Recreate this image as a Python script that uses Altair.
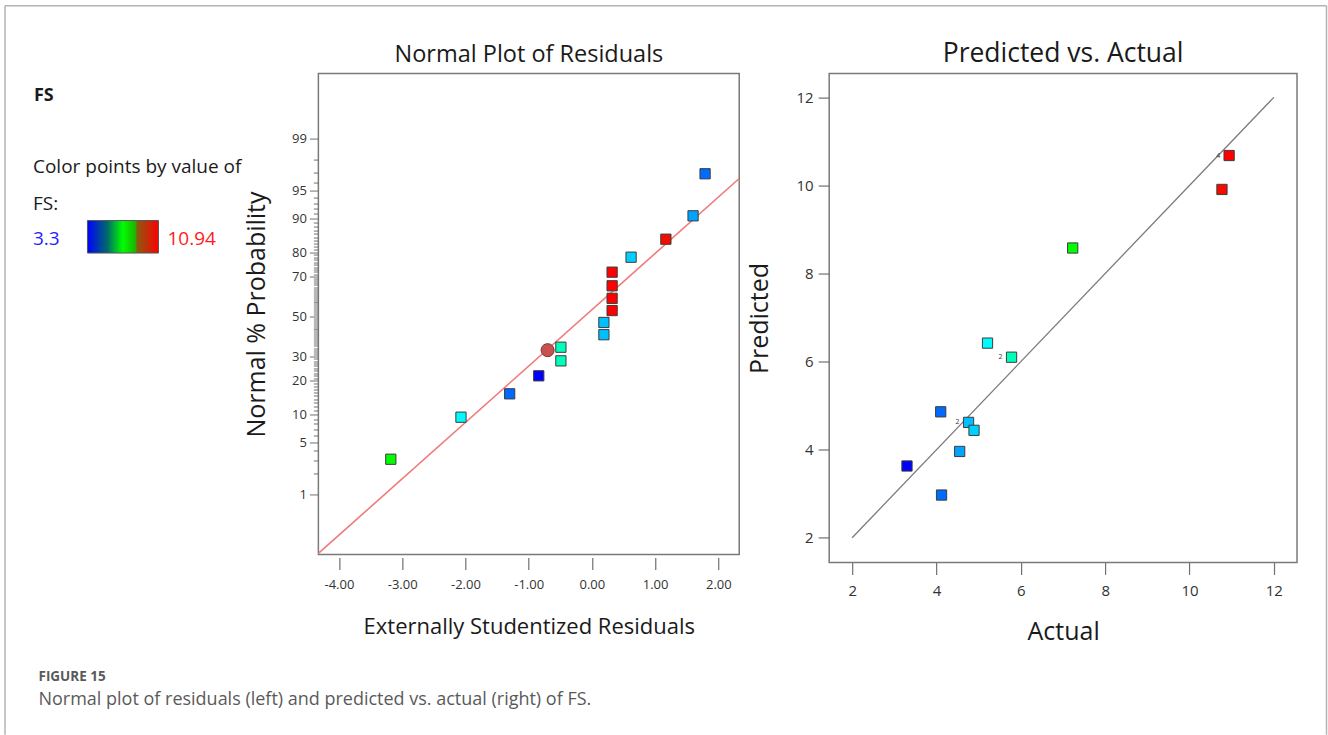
import statistics

import altair as alt
import pandas as pd

FONT = "Open Sans"

# ---------------- normal probability plot of residuals ----------------
residuals = [-3.18, -2.07, -1.30, -0.84, -0.49, -0.49, 0.19, 0.19,
             0.32, 0.32, 0.32, 0.32, 0.62, 1.17, 1.60, 1.79]
normal_pct = [3.1, 9.4, 15.6, 21.9, 28.1, 34.4, 40.6, 46.9,
              53.1, 59.4, 65.6, 71.9, 78.1, 84.4, 90.6, 96.9]
residual_fs = [7.23, 5.21, 4.10, 3.30, 5.78, 5.78, 4.76, 4.76,
               10.94, 10.94, 10.94, 10.94, 4.89, 10.77, 4.55, 4.12]

highlight_residual = [-0.70]
highlight_pct = [33.0]

line_residual = [-4.325, 2.33]
line_pct = [0.0974, 96.44]

# ---------------- predicted vs. actual ----------------
actual = [3.30, 4.10, 4.12, 4.55, 4.76, 4.89, 5.21, 5.78, 7.23, 10.77, 10.94]
predicted = [3.63, 4.86, 2.97, 3.96, 4.62, 4.44, 6.42, 6.10, 8.58, 9.91, 10.68]
repeats = ["", "", "", "", "2", "", "", "2", "", "", "4"]

fit_actual = [2, 12]
fit_predicted = [2, 12]

# ---------------- axis ticks and colour key ----------------
prob_major = [1, 5, 10, 20, 30, 50, 70, 80, 90, 95, 99]
prob_minor = list(range(1, 100))
resid_ticks = [-4, -3, -2, -1, 0, 1, 2]
value_ticks = [2, 4, 6, 8, 10, 12]
fs_low, fs_high = "3.3", "10.94"

color_domain = [3.3, 5.25, 7.2, 10.94]
color_range = ["#0000ff", "#00ffff", "#00ff00", "#ff0000"]

# probability axis: ticks at the normal quantile of every whole percent
nd = statistics.NormalDist()
prob_tick_z = [nd.inv_cdf(p / 100.0) for p in prob_minor]
pct_of_tick = "round(cumulativeNormal(datum.value) * 100)"
is_major = "indexof([" + ",".join(str(p) for p in prob_major) + "], " + pct_of_tick + ") >= 0"

color_enc = alt.Color(
    "fs:Q",
    scale=alt.Scale(domain=color_domain, range=color_range, interpolate="rgb"),
    legend=None,
)

tick_color = "#707070"
label_color = "#333333"
title_color = "#1a1a1a"

x_resid = alt.X(
    "residual:Q",
    scale=alt.Scale(domain=[-4.325, 2.33], nice=False, zero=False),
    axis=alt.Axis(
        values=resid_ticks,
        labelExpr="(datum.value < 0 ? '-' : '') + format(abs(datum.value), '.2f')",
        offset=3, domain=False, grid=False,
        tickSize=12, tickColor=tick_color, tickWidth=1.2,
        labelFont=FONT, labelFontSize=13, labelColor=label_color, labelPadding=9,
        title="Externally Studentized Residuals", titleFont=FONT, titleFontSize=22,
        titleFontWeight="normal", titleColor=title_color, titlePadding=25,
    ),
)
y_prob = alt.Y(
    "z:Q",
    scale=alt.Scale(domain=[-3.111, 3.176], nice=False, zero=False),
    axis=alt.Axis(
        values=prob_tick_z,
        labelExpr=is_major + " ? '' + " + pct_of_tick + " : ''",
        labelOverlap=False, domain=False, grid=False,
        tickSize={"condition": {"test": is_major, "value": 9}, "value": 5},
        tickColor=tick_color, tickWidth=1,
        labelFont=FONT, labelFontSize=13, labelColor=label_color, labelPadding=3,
        title="Normal % Probability", titleFont=FONT, titleFontSize=25,
        titleFontWeight="normal", titleColor=title_color, titlePadding=22,
    ),
)

resid_df = pd.DataFrame({"residual": residuals, "pct": normal_pct, "fs": residual_fs})
highlight_df = pd.DataFrame({"residual": highlight_residual, "pct": highlight_pct})
resid_line_df = pd.DataFrame({"residual": line_residual, "pct": line_pct})
one = pd.DataFrame({"k": [0]})

to_z = "quantileNormal(datum.pct / 100)"

resid_line = alt.Chart(resid_line_df).mark_line(color="#f07a7a", strokeWidth=1.6).transform_calculate(
    z=to_z).encode(x=x_resid, y=y_prob)
resid_points = alt.Chart(resid_df).mark_square(
    size=105, filled=True, stroke="#3c3c3c", strokeWidth=1, opacity=1
).transform_calculate(z=to_z).encode(x=x_resid, y=y_prob, color=color_enc)
resid_highlight = alt.Chart(highlight_df).mark_circle(
    size=170, color="#c9524f", stroke="#6a3a3a", strokeWidth=1, opacity=1
).transform_calculate(z=to_z).encode(x=x_resid, y=y_prob)


def note(text, x, y, size, color="#1a1a1a", weight="normal", align="left"):
    return alt.Chart(one).mark_text(
        text=text, font=FONT, fontSize=size, fontWeight=weight, color=color,
        align=align, baseline="alphabetic",
    ).encode(x=alt.value(x), y=alt.value(y))


# surrounding figure frame (open at the bottom), colour key and caption
frame_color = "#b4b4b4"
frame_left = alt.Chart(one).mark_rule(color=frame_color, strokeWidth=1.5).encode(
    x=alt.value(-313.5), y=alt.value(-68), y2=alt.value(661.5))
frame_top = alt.Chart(one).mark_rule(color=frame_color, strokeWidth=1.5).encode(
    x=alt.value(-313.5), x2=alt.value(1008.5), y=alt.value(-68))
frame_right = alt.Chart(one).mark_rule(color=frame_color, strokeWidth=1.5).encode(
    x=alt.value(1008.5), y=alt.value(-68), y2=alt.value(661.5))

key_gradient = alt.Chart(one).mark_rect(
    fill=alt.Gradient(
        gradient="linear", x1=0, x2=1, y1=0, y2=0,
        stops=[
            alt.GradientStop(color="#0000ff", offset=0),
            alt.GradientStop(color="#006a6a", offset=0.28),
            alt.GradientStop(color="#00ff00", offset=0.5),
            alt.GradientStop(color="#20b000", offset=0.68),
            alt.GradientStop(color="#8a5a10", offset=0.70),
            alt.GradientStop(color="#ff0000", offset=1),
        ],
    ),
    stroke="#555555", strokeWidth=1,
).encode(x=alt.value(-231), x2=alt.value(-160), y=alt.value(147), y2=alt.value(179.5))

decor = [
    frame_left, frame_top, frame_right,
    note("Normal Plot of Residuals", 210.6, -11.5, 23.5, color=title_color, align="center"),
    note("FS", -284.5, 27, 18, weight="bold"),
    note("Color points by value of", -285.5, 99.5, 19),
    note("FS:", -285.5, 136, 19),
    note(fs_low, -285.5, 171, 19, color="#1f1fff"),
    note(fs_high, -151, 171, 19, color="#ff1a1a"),
    key_gradient,
    note("FIGURE 15", -280, 608, 13.5, color="#5a5a5a", weight="bold"),
    note("Normal plot of residuals (left) and predicted vs. actual (right) of FS.", -280, 632, 18,
         color="#5a5a5a"),
]

left = alt.layer(resid_line, resid_points, resid_highlight, *decor).properties(width=421, height=481)

# ---------------- right panel ----------------
x_act = alt.X(
    "actual:Q",
    scale=alt.Scale(domain=[1.455, 12.55], nice=False, zero=False),
    axis=alt.Axis(
        values=value_ticks, domain=False, grid=False,
        tickSize=12, tickColor=tick_color, tickWidth=1.2,
        labelFont=FONT, labelFontSize=15, labelColor=label_color, labelPadding=9,
        title="Actual", titleFont=FONT, titleFontSize=25, titleFontWeight="normal",
        titleColor=title_color, titlePadding=21,
    ),
)
y_pred = alt.Y(
    "predicted:Q",
    scale=alt.Scale(domain=[1.44, 12.54], nice=False, zero=False),
    axis=alt.Axis(
        values=value_ticks, domain=False, grid=False,
        tickSize=11, tickColor=tick_color, tickWidth=1.2,
        labelFont=FONT, labelFontSize=15, labelColor=label_color, labelPadding=5,
        title="Predicted", titleFont=FONT, titleFontSize=25, titleFontWeight="normal",
        titleColor=title_color, titlePadding=24,
    ),
)

pva_df = pd.DataFrame({"actual": actual, "predicted": predicted, "fs": actual, "rep": repeats})
fit_df = pd.DataFrame({"actual": fit_actual, "predicted": fit_predicted})

fit_line = alt.Chart(fit_df).mark_line(color="#7a7a7a", strokeWidth=1.3).encode(x=x_act, y=y_pred)
pva_points = alt.Chart(pva_df).mark_square(
    size=105, filled=True, stroke="#3c3c3c", strokeWidth=1, opacity=1
).encode(x=x_act, y=y_pred, color=color_enc)
pva_reps = alt.Chart(pva_df).mark_text(
    font=FONT, fontSize=7, color="#333333", dx=-11, align="center", baseline="middle"
).encode(x=x_act, y=y_pred, text="rep:N")
pva_title = note("Predicted vs. Actual", 234, -11.75, 26.5, color=title_color, align="center")

right = alt.layer(fit_line, pva_points, pva_reps, pva_title).properties(width=468, height=489)

chart = (
    alt.hconcat(left, right, spacing=90, bounds="flush")
    .properties(
        padding={"left": 3.5, "top": 3.5, "right": 0, "bottom": 0},
        background="white",
    )
    .configure(font=FONT)
    .configure_view(stroke="#7a7a7a", strokeWidth=1.5)
)

chart.save("out.html", embed_options={"renderer": "svg", "actions": False})
